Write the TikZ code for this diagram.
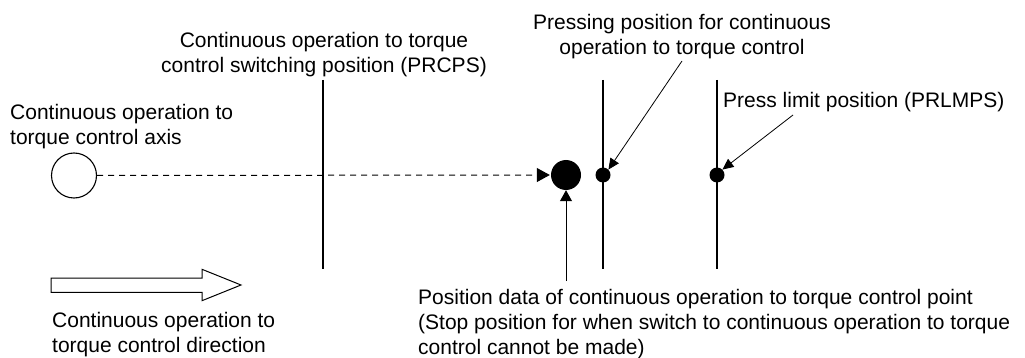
\documentclass[tikz,border=0pt]{standalone}
\usepackage{fontspec}
\setmainfont{Liberation Sans}
\usetikzlibrary{arrows.meta}
\tikzset{
  lbl/.style={inner sep=0pt, font=\fontsize{21}{25}\selectfont},
  vline/.style={line width=1.1pt},
  bigtip/.style={-{Triangle[length=13pt,width=14pt]}},
  smalltip/.style={-{Triangle[length=11pt,width=10pt]}, line width=0.8pt},
  dot/.style={circle, fill=black, inner sep=0pt, minimum size=#1},
}
\begin{document}
\begin{tikzpicture}[x=1pt,y=-1pt]
\useasboundingbox (0,0) rectangle (1025,358);
% axis circle
\node[circle, draw, line width=1.1pt, minimum size=45pt, inner sep=0pt] (axis) at (74,175.5) {};
% vertical lines
\coordinate (l1t) at (323,80); \coordinate (l1b) at (323,269);
\coordinate (l2t) at (603,80); \coordinate (l2b) at (603,269);
\coordinate (l3t) at (717,80); \coordinate (l3b) at (717,269);
\draw[vline] (l1t) -- (l1b);
\draw[vline] (l2t) -- (l2b);
\draw[vline] (l3t) -- (l3b);
% dots
\node[dot=30pt] (big) at (566,175) {};
\node[dot=15pt] (d1) at (603,175) {};
\node[dot=15pt] (d2) at (717,175) {};
% dashed motion line
\draw[line width=1pt, dash pattern=on 6pt off 5pt, bigtip] (axis.east) -- ([xshift=-1pt]big.west);
% up arrow to big dot
\coordinate (upstart) at (566,281);
\draw[line width=1pt, -{Triangle[length=11pt,width=12pt]}] (upstart) -- (big.south);
% pointer arrows
\coordinate (pp) at (682,61);
\coordinate (pl) at (793,115);
\draw[smalltip] (pp) -- (d1.north east);
\draw[smalltip] (pl) -- (d2.north east);
% hollow direction arrow
\draw[line width=1pt] (51,278) -- (202,278) -- (202,269.3) -- (241,285) -- (202,300.7) -- (202,292.3) -- (51,292.3) -- cycle;
% labels
\node[lbl, align=left, anchor=north west] (taxis) at (10,104) {Continuous operation to\\torque control axis};
\node[lbl, align=center, anchor=north] (tprcps) at (324,32.5) {Continuous operation to torque\\control switching position (PRCPS)};
\node[lbl, align=center, anchor=north] (tpress) at (682,14) {Pressing position for continuous\\operation to torque control};
\node[lbl, align=left, anchor=north west] (tlimit) at (723,92.5) {Press limit position (PRLMPS)};
\node[lbl, align=left, anchor=north west] (tdir) at (52,312.5) {Continuous operation to\\torque control direction};
\node[lbl, align=left, anchor=north west] (tdata) at (418,289) {Position data of continuous operation to torque control point\\(Stop position for when switch to continuous operation to torque\\control cannot be made)};
\end{tikzpicture}
\end{document}
